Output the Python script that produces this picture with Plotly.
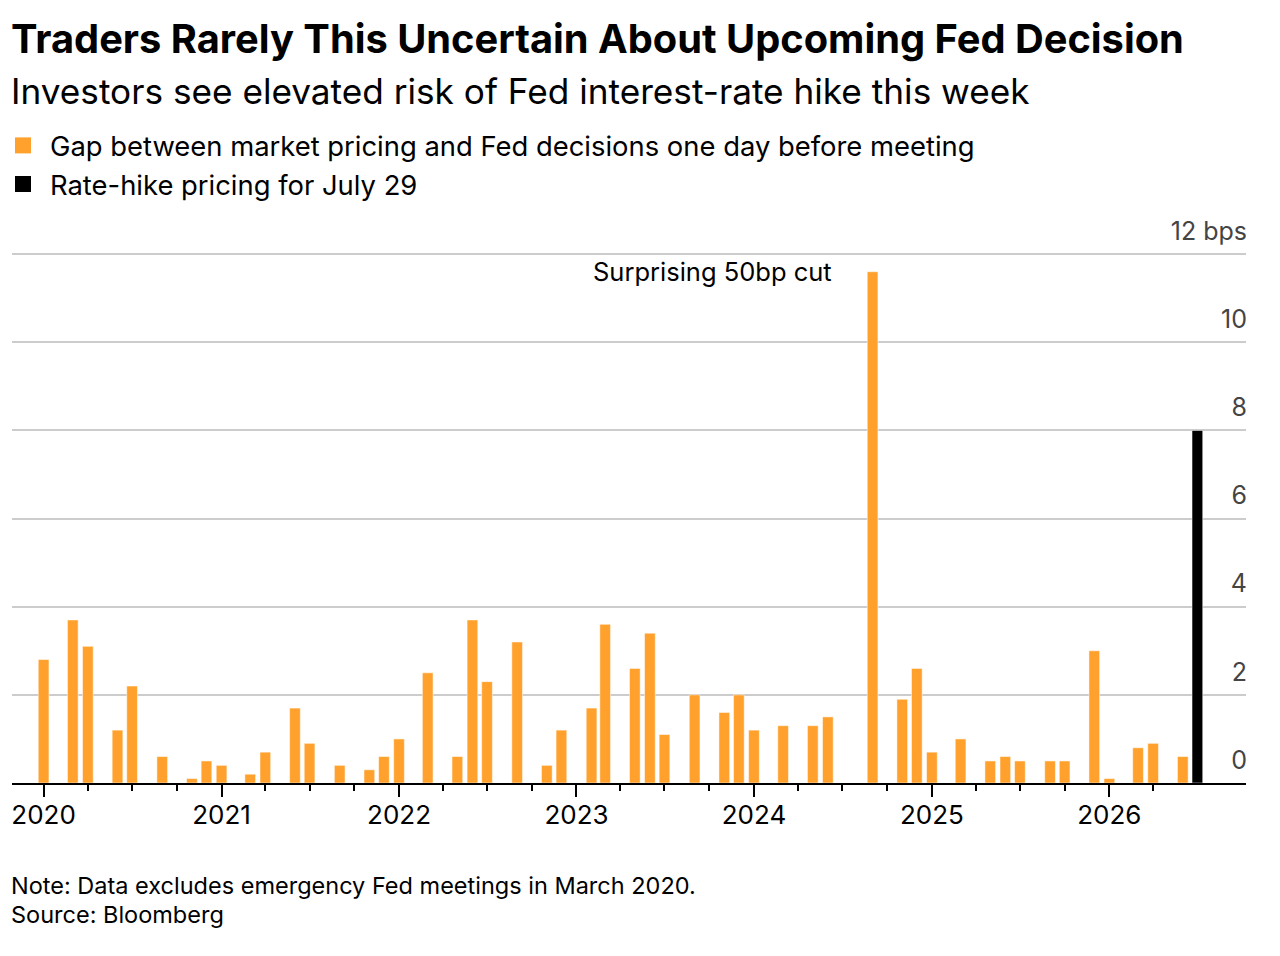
import plotly.graph_objects as go

# FOMC meeting months (plotted at month start) and the gap in bps
meeting_months = [
    "2020-01-01", "2020-03-01", "2020-04-01", "2020-06-01", "2020-07-01", "2020-09-01", "2020-11-01", "2020-12-01",
    "2021-01-01", "2021-03-01", "2021-04-01", "2021-06-01", "2021-07-01", "2021-09-01", "2021-11-01", "2021-12-01",
    "2022-01-01", "2022-03-01", "2022-05-01", "2022-06-01", "2022-07-01", "2022-09-01", "2022-11-01", "2022-12-01",
    "2023-02-01", "2023-03-01", "2023-05-01", "2023-06-01", "2023-07-01", "2023-09-01", "2023-11-01", "2023-12-01",
    "2024-01-01", "2024-03-01", "2024-05-01", "2024-06-01", "2024-09-01", "2024-11-01", "2024-12-01",
    "2025-01-01", "2025-03-01", "2025-05-01", "2025-06-01", "2025-07-01", "2025-09-01", "2025-10-01", "2025-12-01",
    "2026-01-01", "2026-03-01", "2026-04-01", "2026-06-01",
]
gap_bps = [
    2.8, 3.7, 3.1, 1.2, 2.2, 0.6, 0.1, 0.5,
    0.4, 0.2, 0.7, 1.7, 0.9, 0.4, 0.3, 0.6,
    1.0, 2.5, 0.6, 3.7, 2.3, 3.2, 0.4, 1.2,
    1.7, 3.6, 2.6, 3.4, 1.1, 2.0, 1.6, 2.0,
    1.2, 1.3, 1.3, 1.5, 11.6, 1.9, 2.6,
    0.7, 1.0, 0.5, 0.6, 0.5, 0.5, 0.5, 3.0,
    0.1, 0.8, 0.9, 0.6,
]

july_month = ["2026-07-01"]
july_pricing = [8.0]

y_ticks = [0, 2, 4, 6, 8, 10, 12]
y_tick_labels = ["0", "2", "4", "6", "8", "10", "12 bps"]

ORANGE = "#FFA12C"
FONT = "Inter"
DAY_MS = 86400000
BAR_W = 22 * DAY_MS

# the page body has an 8px margin, so the figure is drawn 8px in from the top-left
W, H = 1264, 940
OFF = 8
PLOT_LEFT, PLOT_RIGHT = 12, 1246  # page px
PLOT_BOTTOM = 783
Y_MAX = 13.5
PX_PER_BP = 44.08
PLOT_H = Y_MAX * PX_PER_BP


def paper_y(page_y):
    return (PLOT_BOTTOM - page_y) / PLOT_H


def paper_x(page_x):
    return (page_x - PLOT_LEFT) / (PLOT_RIGHT - PLOT_LEFT)


fig = go.Figure()

fig.add_trace(go.Bar(
    x=meeting_months, y=gap_bps, width=BAR_W,
    marker=dict(color=ORANGE, line=dict(color="rgba(255,255,255,0.5)", width=1)),
    showlegend=False, hoverinfo="x+y",
))
fig.add_trace(go.Bar(
    x=july_month, y=july_pricing, width=BAR_W,
    marker=dict(color="black", line=dict(color="rgba(255,255,255,0.5)", width=1)),
    showlegend=False, hoverinfo="x+y",
))

# legend entries
fig.add_trace(go.Scatter(x=[None], y=[None], mode="markers",
                         marker=dict(symbol="square", size=18, color=ORANGE),
                         name="Gap between market pricing and Fed decisions one day before meeting"))
fig.add_trace(go.Scatter(x=[None], y=[None], mode="markers",
                         marker=dict(symbol="square", size=18, color="black"),
                         name="Rate-hike pricing for July 29"))

fig.add_annotation(
    x="2024-09-01", y=11.6, text="Surprising 50bp cut", showarrow=False,
    xanchor="right", yanchor="middle", xshift=-39,
    font=dict(family=FONT, size=25.5, color="black"),
)

# title block and footer
fig.add_annotation(xref="paper", yref="paper", x=0, y=paper_y(38), xshift=-3,
                   text="<b>Traders Rarely This Uncertain About Upcoming Fed Decision</b>",
                   showarrow=False, xanchor="left", yanchor="middle",
                   font=dict(family=FONT, size=39.8, color="black"))
fig.add_annotation(xref="paper", yref="paper", x=0, y=paper_y(91), xshift=-3,
                   text="Investors see elevated risk of Fed interest-rate hike this week",
                   showarrow=False, xanchor="left", yanchor="middle",
                   font=dict(family=FONT, size=35.2, color="black"))
fig.add_annotation(xref="paper", yref="paper", x=0, y=paper_y(886), xshift=-3,
                   text="Note: Data excludes emergency Fed meetings in March 2020.",
                   showarrow=False, xanchor="left", yanchor="middle",
                   font=dict(family=FONT, size=23.5, color="black"))
fig.add_annotation(xref="paper", yref="paper", x=0, y=paper_y(915), xshift=-3,
                   text="Source: Bloomberg",
                   showarrow=False, xanchor="left", yanchor="middle",
                   font=dict(family=FONT, size=23.5, color="black"))

fig.update_layout(
    width=W, height=H,
    margin=dict(l=PLOT_LEFT - OFF, r=W - (PLOT_RIGHT - OFF), t=PLOT_BOTTOM - PLOT_H - OFF,
                b=H - (PLOT_BOTTOM - OFF), autoexpand=False),
    paper_bgcolor="white", plot_bgcolor="white",
    font=dict(family=FONT, size=25, color="black"),
    barmode="overlay",
    legend=dict(xref="paper", yref="paper", x=paper_x(-4), y=paper_y(121),
                xanchor="left", yanchor="top", orientation="v", itemwidth=44,
                font=dict(family=FONT, size=27.4), bgcolor="rgba(0,0,0,0)",
                itemclick=False, itemdoubleclick=False),
    xaxis=dict(
        type="date", range=["2019-10-28", "2026-10-09"],
        tick0="2020-01-01", dtick="M12", tickformat="%Y",
        ticks="outside", ticklen=12, tickwidth=1.5, tickcolor="black",
        ticklabelstandoff=-4,
        showline=True, linecolor="black", linewidth=2,
        showgrid=False, zeroline=False,
        tickfont=dict(family=FONT, size=26),
        minor=dict(tick0="2020-01-01", dtick="M3", ticks="outside", ticklen=6,
                   tickwidth=1.5, tickcolor="black", showgrid=False),
    ),
    yaxis=dict(
        side="right", range=[0, Y_MAX],
        tickvals=y_ticks, ticktext=y_tick_labels,
        ticklabelposition="inside", ticklabelshift=-23, ticklabelstandoff=-4,
        ticks="", showgrid=True, gridcolor="#cccccc", gridwidth=1.5,
        zeroline=False, showline=False,
        tickfont=dict(family=FONT, size=25),
    ),
)

fig.write_html("out.html")
